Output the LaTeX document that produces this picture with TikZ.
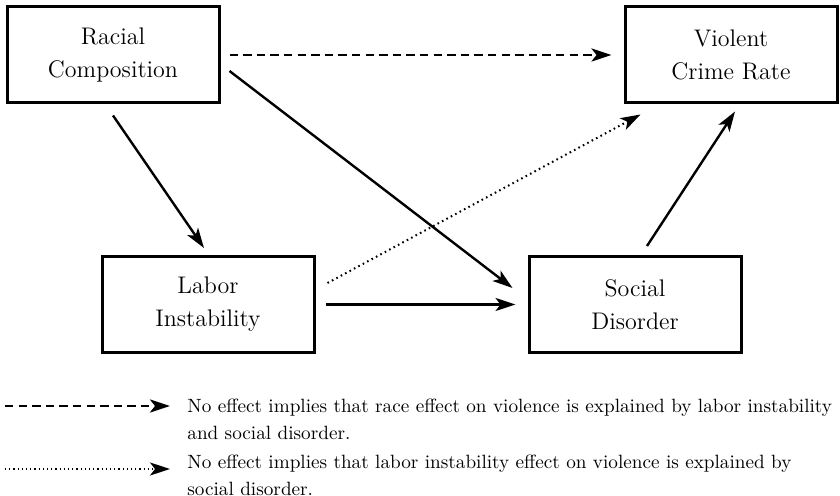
\documentclass[tikz,border=0pt]{standalone}
\usepackage{tikz}
\usetikzlibrary{arrows.meta,calc}

\begin{document}
\begin{tikzpicture}[x=0.5pt,y=-0.5pt,
    box/.style={draw,line width=1.5pt,minimum width=106pt,minimum height=48pt,inner sep=0pt,align=center,font=\fontsize{12}{16.5}\selectfont},
    link/.style={line width=1.2pt,-{Stealth[length=10pt,width=6.5pt,inset=2.5pt]}},
    dashlink/.style={link,line width=1.3pt,dash pattern=on 4.2pt off 2.6pt},
    dotlink/.style={link,line width=1pt,dash pattern=on 0.8pt off 1.7pt},
    legdots/.style={link,line width=0.9pt,dash pattern=on 0.6pt off 1.5pt},
    legtext/.style={anchor=west,inner sep=0pt,align=left,font=\fontsize{9.6}{13.5}\selectfont}]
  \useasboundingbox (0,0) rectangle (840,496);
  \foreach \nm/\x/\y/\txt in {racial/113/55/{Racial\\Composition},violent/731/55/{Violent\\Crime Rate},labor/208/304.5/{Labor\\Instability},social/635/304.5/{Social\\Disorder}}
    \node[box] (\nm) at (\x,\y) {\txt};
  \draw[dashlink] ($(racial.east)+(9,0)$) -- ($(violent.west)+(-12,0)$);
  \draw[link] ($(racial.east)+(9,16)$) -- ($(social.north west)+(-15,33)$);
  \draw[link] ($(racial.south)+(0,11)$) -- ($(labor.north)+(-4,-7)$);
  \draw[link] ($(labor.east)+(10,0)$) -- ($(social.west)+(-12,0)$);
  \draw[dotlink] ($(labor.east)+(12,-21.5)$) -- ($(violent.south west)+(17,10)$);
  \draw[link] ($(social.north)+(12,-9)$) -- ($(violent.south)+(4,7)$);
  \coordinate (dasha) at (5,406);
  \coordinate (dashb) at (170,406);
  \draw[dashlink] (dasha) -- (dashb);
  \node[legtext] (legone) at (187,419.5) {No effect implies that race effect on violence is explained by labor instability\\and social disorder.};
  \coordinate (dota) at (5,469);
  \coordinate (dotb) at (170,469);
  \draw[legdots] (dota) -- (dotb);
  \node[legtext] (legtwo) at (187,475) {No effect implies that labor instability effect on violence is explained by\\social disorder.};
\end{tikzpicture}
\end{document}
